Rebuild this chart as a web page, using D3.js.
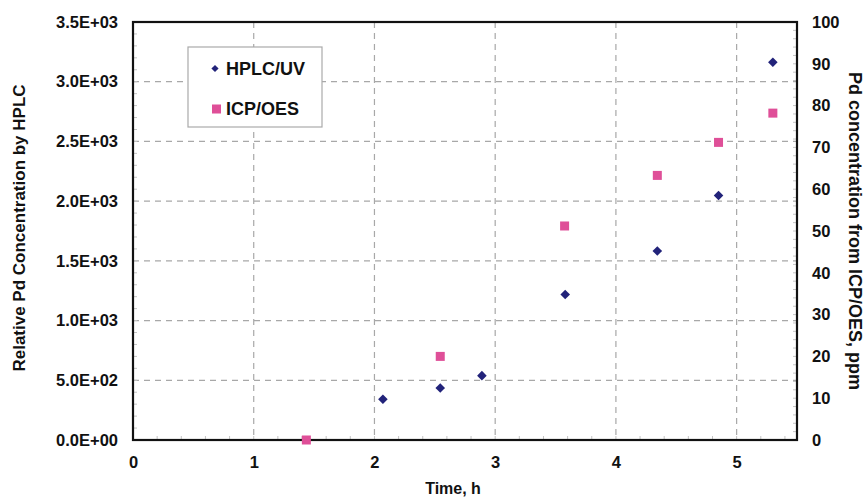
<!DOCTYPE html>
<html><head><meta charset="utf-8">
<script src="https://cdn.jsdelivr.net/npm/d3@7"></script>
<style>body{margin:0;background:#fff;} svg{display:block;} text{font-family:"Liberation Sans",Arial,sans-serif;font-weight:bold;}</style>
</head><body><svg id="c" width="866" height="498"></svg>
<script>
const hplcTime = [2.07, 2.545, 2.89, 3.58, 4.343, 4.85, 5.30];
const hplcValue = [341, 436, 539, 1218, 1583, 2047, 3163];
const icpTime = [1.436, 2.545, 3.575, 4.343, 4.85, 5.30];
const icpValue = [0, 20, 51.2, 63.3, 71.2, 78.2];
const xTicks = [0, 1, 2, 3, 4, 5];
const yLeftTicks = [0, 500, 1000, 1500, 2000, 2500, 3000, 3500];
const yRightTicks = [0, 10, 20, 30, 40, 50, 60, 70, 80, 90, 100];
const legendLabels = ["HPLC/UV", "ICP/OES"];

const svg = d3.select("#c");
const L = 133, R = 797, T = 22, B = 440;
const x = d3.scaleLinear().domain([0, 5.5]).range([L, R]);
const yL = d3.scaleLinear().domain([0, 3500]).range([B, T]);
const yR = d3.scaleLinear().domain([0, 100]).range([B, T]);

// grid
const grid = svg.append("g").attr("stroke", "#a8a8a8").attr("stroke-width", 1.2).attr("stroke-dasharray", "6,5");
grid.selectAll(".h").data(yLeftTicks.filter(d => d > 0 && d < 3500)).join("line")
  .attr("x1", L).attr("x2", R).attr("y1", d => yL(d)).attr("y2", d => yL(d));
grid.selectAll(".v").data(xTicks.filter(d => d > 0)).join("line")
  .attr("y1", T).attr("y2", B).attr("x1", d => x(d)).attr("x2", d => x(d));

// minor ticks inside
const minor = svg.append("g").attr("stroke", "#c4c4c4").attr("stroke-width", 1);
minor.selectAll(".mx").data(d3.range(0, 5.5001, 0.2)).join("line")
  .attr("x1", d => x(d)).attr("x2", d => x(d)).attr("y1", B).attr("y2", B - 4);
minor.selectAll(".ml").data(d3.range(0, 3500.1, 100)).join("line")
  .attr("x1", L).attr("x2", L + 4).attr("y1", d => yL(d)).attr("y2", d => yL(d));
minor.selectAll(".mr").data(d3.range(0, 100.1, 2)).join("line")
  .attr("x1", R).attr("x2", R - 4).attr("y1", d => yR(d)).attr("y2", d => yR(d));

// axes (labels only, via d3 axes)
const fmtE = d => {
  if (d === 0) return "0.0E+00";
  const e = Math.floor(Math.log10(d));
  const m = d / Math.pow(10, e);
  return m.toFixed(1) + "E+" + String(e).padStart(2, "0");
};
const axL = svg.append("g").attr("transform", `translate(${L},0)`)
  .call(d3.axisLeft(yL).tickValues(yLeftTicks).tickFormat(fmtE).tickSize(0).tickPadding(15));
const axR = svg.append("g").attr("transform", `translate(${R},0)`)
  .call(d3.axisRight(yR).tickValues(yRightTicks).tickFormat(d3.format("d")).tickSize(0).tickPadding(15));
const axB = svg.append("g").attr("transform", `translate(0,${B})`)
  .call(d3.axisBottom(x).tickValues(xTicks).tickFormat(d3.format("d")).tickSize(0).tickPadding(16));
[axL, axR, axB].forEach(a => {
  a.select(".domain").remove();
  a.selectAll("text").attr("font-size", 16.5).attr("fill", "#111")
    .attr("font-family", "Liberation Sans, Arial, sans-serif").attr("font-weight", "bold");
});

// frame
svg.append("rect").attr("x", L).attr("y", T).attr("width", R - L).attr("height", B - T)
  .attr("fill", "none").attr("stroke", "#111").attr("stroke-width", 2.2);

// data
const diamond = d3.symbol().type(d3.symbolSquare).size(46);
svg.append("g").selectAll("path").data(hplcTime.map((t, i) => [t, hplcValue[i]])).join("path")
  .attr("d", diamond)
  .attr("transform", d => `translate(${x(d[0])},${yL(d[1])}) rotate(45)`)
  .attr("fill", "#22237a");
svg.append("g").selectAll("rect").data(icpTime.map((t, i) => [t, icpValue[i]])).join("rect")
  .attr("x", d => x(d[0]) - 4.5).attr("y", d => yR(d[1]) - 4.5)
  .attr("width", 9).attr("height", 9).attr("fill", "#df4f98");

// legend
const lg = svg.append("g");
lg.append("rect").attr("x", 188).attr("y", 47).attr("width", 134).attr("height", 80)
  .attr("fill", "#fff").attr("stroke", "#aaa").attr("stroke-width", 1.2);
lg.append("path").attr("d", d3.symbol().type(d3.symbolSquare).size(26))
  .attr("transform", "translate(215,68.5) rotate(45)").attr("fill", "#22237a");
lg.append("rect").attr("x", 212).attr("y", 104.5).attr("width", 9).attr("height", 9).attr("fill", "#df4f98");
lg.selectAll("text").data(legendLabels).join("text")
  .attr("x", 226).attr("y", (d, i) => [68.5, 109][i]).attr("dy", "0.36em")
  .attr("font-size", 18).attr("fill", "#111").text(d => d);

// titles
svg.append("text").attr("transform", `translate(25,${(T + B) / 2 - 3}) rotate(-90)`)
  .attr("text-anchor", "middle").attr("font-size", 17).attr("fill", "#111")
  .text("Relative Pd Concentration by HPLC");
svg.append("text").attr("transform", `translate(849,${(T + B) / 2}) rotate(90)`)
  .attr("text-anchor", "middle").attr("font-size", 18).attr("fill", "#111")
  .text("Pd concentration from ICP/OES, ppm");
svg.append("text").attr("x", 453).attr("y", 494).attr("text-anchor", "middle")
  .attr("font-size", 16).attr("fill", "#111").text("Time, h");
</script></body></html>
